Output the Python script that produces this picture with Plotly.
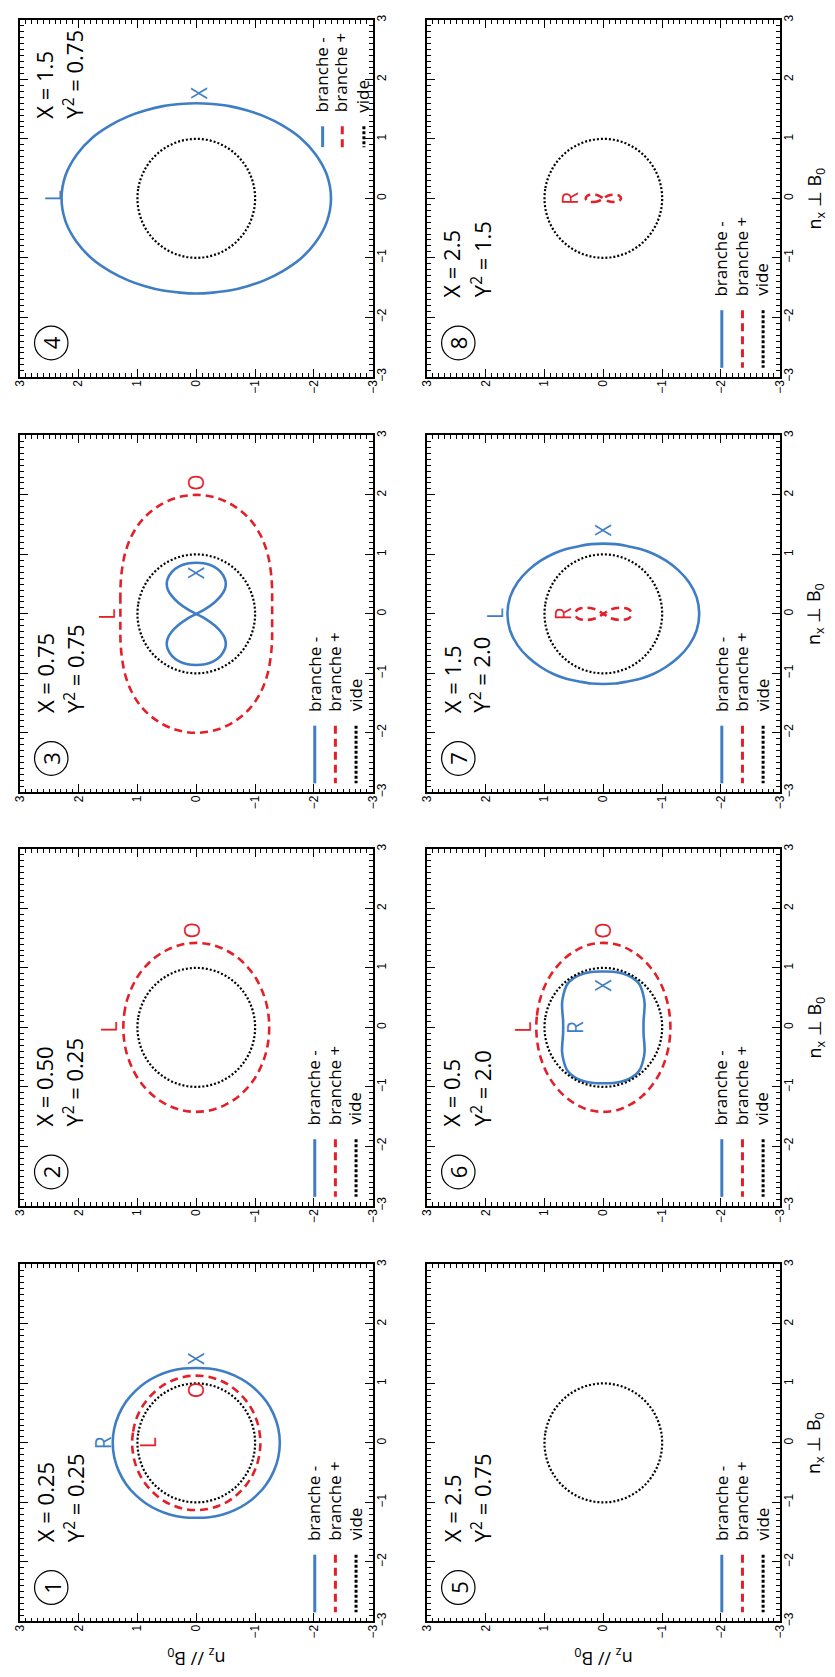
import numpy as np
import plotly.graph_objects as go
from plotly.subplots import make_subplots

# ---------------- data ----------------
# angle between k and B0 (degrees), first quadrant; curves are symmetric
THETA = [0, 10, 20, 30, 40, 50, 60, 70, 80, 90]
# refractive index n(theta) read on each panel
VIDE_N = [1.0, 1.0, 1.0, 1.0, 1.0, 1.0, 1.0, 1.0, 1.0, 1.0]
P1_MINUS = [1.42, 1.415, 1.40, 1.38, 1.355, 1.33, 1.305, 1.285, 1.27, 1.26]
P1_PLUS = [1.09, 1.09, 1.095, 1.10, 1.105, 1.11, 1.12, 1.125, 1.13, 1.13]
P2_PLUS = [1.24, 1.245, 1.26, 1.28, 1.31, 1.34, 1.37, 1.395, 1.415, 1.42]
P3_PLUS = [1.29, 1.31, 1.37, 1.46, 1.58, 1.71, 1.83, 1.92, 1.98, 2.0]
P3_MINUS_THETA = [25, 28, 32, 36, 40, 45, 50, 60, 70, 80, 90]
P3_MINUS = [0.0, 0.17, 0.37, 0.52, 0.63, 0.71, 0.76, 0.82, 0.85, 0.86, 0.86]
P4_MINUS = [2.29, 2.255, 2.16, 2.04, 1.91, 1.80, 1.71, 1.65, 1.61, 1.60]
P6_PLUS = [1.14, 1.146, 1.165, 1.195, 1.235, 1.28, 1.33, 1.375, 1.41, 1.42]
P6_MINUS = [0.683, 0.695, 0.74, 0.81, 0.88, 0.95, 0.97, 0.965, 0.95, 0.94]
P7_MINUS = [1.63, 1.61, 1.55, 1.47, 1.39, 1.32, 1.26, 1.21, 1.19, 1.18]
SMALL_THETA = [0, 10, 20, 30, 40]
P7_PLUS = [0.48, 0.44, 0.30, 0.15, 0.0]
P8_PLUS = [0.30, 0.27, 0.18, 0.09, 0.0]

PANEL_X = ["X = 0.25", "X = 0.50", "X = 0.75", "X = 1.5", "X = 2.5", "X = 0.5", "X = 1.5", "X = 2.5"]
PANEL_Y = ["0.25", "0.25", "0.75", "0.75", "0.75", "2.0", "2.0", "1.5"]
LEGEND_NAMES = ["branche -", "branche +", "vide"]
MAJOR_TICKS = [-3, -2, -1, 0, 1, 2, 3]
MINOR_TICKS = [round(-3 + 0.1 * i, 1) for i in range(61)]

# ---------------- styles ----------------
W, H = 835, 1677
BLUE = "#3F7EC4"
RED = "#E3202A"
FONT = "Open Sans"
TFONT = "Liberation Sans"
STY = {
    "minus": dict(color=BLUE, width=2.6),
    "plus": dict(color=RED, width=2.6, dash="8px,5px"),
    "vide": dict(color="black", width=2.2, dash="2px,2px"),
}


def ring(theta, r):
    t = np.radians(theta)
    r = np.asarray(r, float)
    ang = np.concatenate([t, np.pi - t[::-1][1:], np.pi + t[1:], 2 * np.pi - t[::-1][1:]])
    rad = np.concatenate([r, r[::-1][1:], r[1:], r[::-1][1:]])
    return rad * np.cos(ang), rad * np.sin(ang)


def eight_perp(theta, r):
    # lobes along n_x, crossing at the origin
    t = np.radians(theta)
    r = np.asarray(r, float)
    ang = np.concatenate([t, np.pi - t[::-1][1:], 2 * np.pi - t[1:], np.pi + t[::-1][1:]])
    rad = np.concatenate([r, r[::-1][1:], r[1:], r[::-1][1:]])
    return rad * np.cos(ang), rad * np.sin(ang)


def eight_par(theta, r):
    # lobes along n_z, crossing at the origin
    t = np.radians(theta)
    r = np.asarray(r, float)
    ang = np.concatenate([-t[::-1], t[1:], np.pi + t[::-1][1:], np.pi - t[1:]])
    rad = np.concatenate([r[::-1], r[1:], r[::-1][1:], r[1:]])
    return rad * np.cos(ang), rad * np.sin(ang)


CURVES = {
    1: [("minus", ring(THETA, P1_MINUS)), ("plus", ring(THETA, P1_PLUS))],
    2: [("plus", ring(THETA, P2_PLUS))],
    3: [("plus", ring(THETA, P3_PLUS)), ("minus", eight_perp(P3_MINUS_THETA, P3_MINUS))],
    4: [("minus", ring(THETA, P4_MINUS))],
    5: [],
    6: [("plus", ring(THETA, P6_PLUS)), ("minus", ring(THETA, P6_MINUS))],
    7: [("minus", ring(THETA, P7_MINUS)), ("plus", eight_par(SMALL_THETA, P7_PLUS))],
    8: [("plus", eight_par(SMALL_THETA, P8_PLUS))],
}
LABELS = {
    1: [("R", BLUE, 1.58, 0.0), ("X", BLUE, 0.0, 1.42), ("L", RED, 0.83, 0.0), ("O", RED, 0.0, 0.89)],
    2: [("L", RED, 1.48, 0.0), ("O", RED, 0.07, 1.63)],
    3: [("L", RED, 1.52, 0.0), ("O", RED, 0.0, 2.21), ("X", BLUE, 0.0, 0.69)],
    4: [("L", BLUE, 2.43, 0.04), ("X", BLUE, -0.06, 1.78)],
    5: [],
    6: [("L", RED, 1.36, 0.0), ("O", RED, 0.0, 1.63), ("R", BLUE, 0.47, 0.0), ("X", BLUE, 0.0, 0.71)],
    7: [("L", BLUE, 1.84, 0.0), ("X", BLUE, 0.0, 1.41), ("R", RED, 0.68, 0.0)],
    8: [("R", RED, 0.56, 0.0)],
}

POS = {4: (1, 1), 8: (1, 2), 3: (2, 1), 7: (2, 2), 2: (3, 1), 6: (3, 2), 1: (4, 1), 5: (4, 2)}
COLX = {1: (13, 372), 2: (427, 786)}
ROWY = {1: (15, 374), 2: (433, 792), 3: (849, 1208), 4: (1267, 1626)}
S = 359.0

fig = make_subplots(rows=4, cols=2)
annotations = []
shapes = []
extra_axes = {}

minor_axis = dict(
    showgrid=False, zeroline=False, showline=True, linecolor="black", linewidth=1.5,
    mirror="allticks", ticks="inside", ticklen=4, tickwidth=1, tickcolor="black",
    tickmode="array", tickvals=MINOR_TICKS, showticklabels=False,
)
major_axis = dict(
    showgrid=False, zeroline=False, showline=False,
    mirror="allticks", ticks="inside", ticklen=8, tickwidth=1.2, tickcolor="black",
    tickmode="array", tickvals=MAJOR_TICKS, tickangle=-90,
    tickfont=dict(family=TFONT, size=12, color="black"),
)

for p in range(1, 9):
    row, col = POS[p]
    idx = (row - 1) * 2 + col
    xa = "x" if idx == 1 else f"x{idx}"
    ya = "y" if idx == 1 else f"y{idx}"
    ox, oy = f"x{8 + idx}", f"y{8 + idx}"
    vz, vx = ring(THETA, VIDE_N)
    for kind, (nz, nx) in CURVES[p] + [("vide", (vz, vx))]:
        fig.add_trace(go.Scatter(x=nz, y=nx, mode="lines", line=dict(shape="spline", **STY[kind]),
                                 showlegend=False, hoverinfo="skip"), row=row, col=col)
    # empty helper trace so that the overlay axes (major ticks + labels) are drawn
    fig.add_trace(go.Scatter(x=[None], y=[None], mode="lines", showlegend=False, hoverinfo="skip",
                             xaxis=ox, yaxis=oy))
    x0, x1 = COLX[col]
    y0, y1 = ROWY[row]
    xdom = [x0 / W, x1 / W]
    ydom = [1 - y1 / H, 1 - y0 / H]
    fig.update_xaxes(range=[3, -3], domain=xdom, **minor_axis, row=row, col=col)
    fig.update_yaxes(range=[-3, 3], domain=ydom, side="right", **minor_axis, row=row, col=col)
    extra_axes[f"xaxis{8 + idx}"] = dict(overlaying=xa, anchor=oy, range=[3, -3], domain=xdom,
                                         side="bottom", **major_axis)
    extra_axes[f"yaxis{8 + idx}"] = dict(overlaying=ya, anchor=ox, range=[-3, 3], domain=ydom,
                                         side="right", **major_axis)

    xd, yd = f"{xa} domain", f"{ya} domain"

    def rel(px, py):
        return px / S, 1 - py / S

    ybot = 101 if p == 4 else 281
    for cx, txt in [(25, PANEL_X[p - 1]), (55, "Y<sup>2</sup> = " + PANEL_Y[p - 1])]:
        ax_, ay_ = rel(cx, ybot)
        annotations.append(dict(xref=xd, yref=yd, x=ax_, y=ay_, text=txt, textangle=-90,
                                xanchor="center", yanchor="bottom", showarrow=False,
                                font=dict(family=FONT, size=22, color="black")))
    cx, cy = rel(32, 325)
    rr = 17 / S
    shapes.append(dict(type="circle", xref=xd, yref=yd, x0=cx - rr, x1=cx + rr, y0=cy - rr, y1=cy + rr,
                       line=dict(color="black", width=1.2)))
    annotations.append(dict(xref=xd, yref=yd, x=cx, y=cy, text=str(p), textangle=-90, showarrow=False,
                            xanchor="center", yanchor="middle",
                            font=dict(family=FONT, size=22, color="black")))
    if p == 4:
        lx, tb, s0, s1 = [307, 327, 349], 95, 107, 128
    else:
        lx, tb, s0, s1 = [299, 320, 341], 280, 292, 350
    for k, (name, kind) in enumerate(zip(LEGEND_NAMES, ["minus", "plus", "vide"])):
        ax_, ay_ = rel(lx[k], tb)
        annotations.append(dict(xref=xd, yref=yd, x=ax_, y=ay_, text=name, textangle=-90,
                                xanchor="center", yanchor="bottom", showarrow=False,
                                font=dict(family=FONT, size=17, color="black")))
        if kind == "vide":
            st = dict(color="black", width=3, dash="3px,2px")
        elif kind == "plus":
            st = dict(color=RED, width=3, dash="8px,5px")
        else:
            st = dict(color=BLUE, width=3)
        sx, sy0 = rel(lx[k] + 1, s0)
        _, sy1 = rel(lx[k] + 1, s1)
        shapes.append(dict(type="line", xref=xd, yref=yd, x0=sx, x1=sx, y0=sy0, y1=sy1, line=st))
    for txt, colr, nz, nx in LABELS[p]:
        annotations.append(dict(xref=xa, yref=ya, x=nz, y=nx, text=txt, textangle=-90, showarrow=False,
                                xanchor="center", yanchor="middle",
                                font=dict(family=FONT, size=21, color=colr)))
    if col == 2:
        annotations.append(dict(xref="paper", yref="paper", x=822 / W, y=1 - (y0 + y1) / 2 / H,
                                text="n<sub>x</sub> ⊥ B<sub>0</sub>", textangle=-90, showarrow=False,
                                xanchor="center", yanchor="middle",
                                font=dict(family=FONT, size=18, color="black")))
    if row == 4:
        annotations.append(dict(xref="paper", yref="paper", x=(x0 + x1) / 2 / W, y=1 - 1663 / H,
                                text="n<sub>z</sub> // B<sub>0</sub>", textangle=180, showarrow=False,
                                xanchor="center", yanchor="middle",
                                font=dict(family=FONT, size=18, color="black")))

fig.update_layout(width=W, height=H, margin=dict(l=0, r=0, t=0, b=0),
                  paper_bgcolor="white", plot_bgcolor="white",
                  annotations=annotations, shapes=shapes, showlegend=False, **extra_axes)
fig.write_html("out.html", config={"displayModeBar": False},
               post_script="document.body.style.margin='0px';")
